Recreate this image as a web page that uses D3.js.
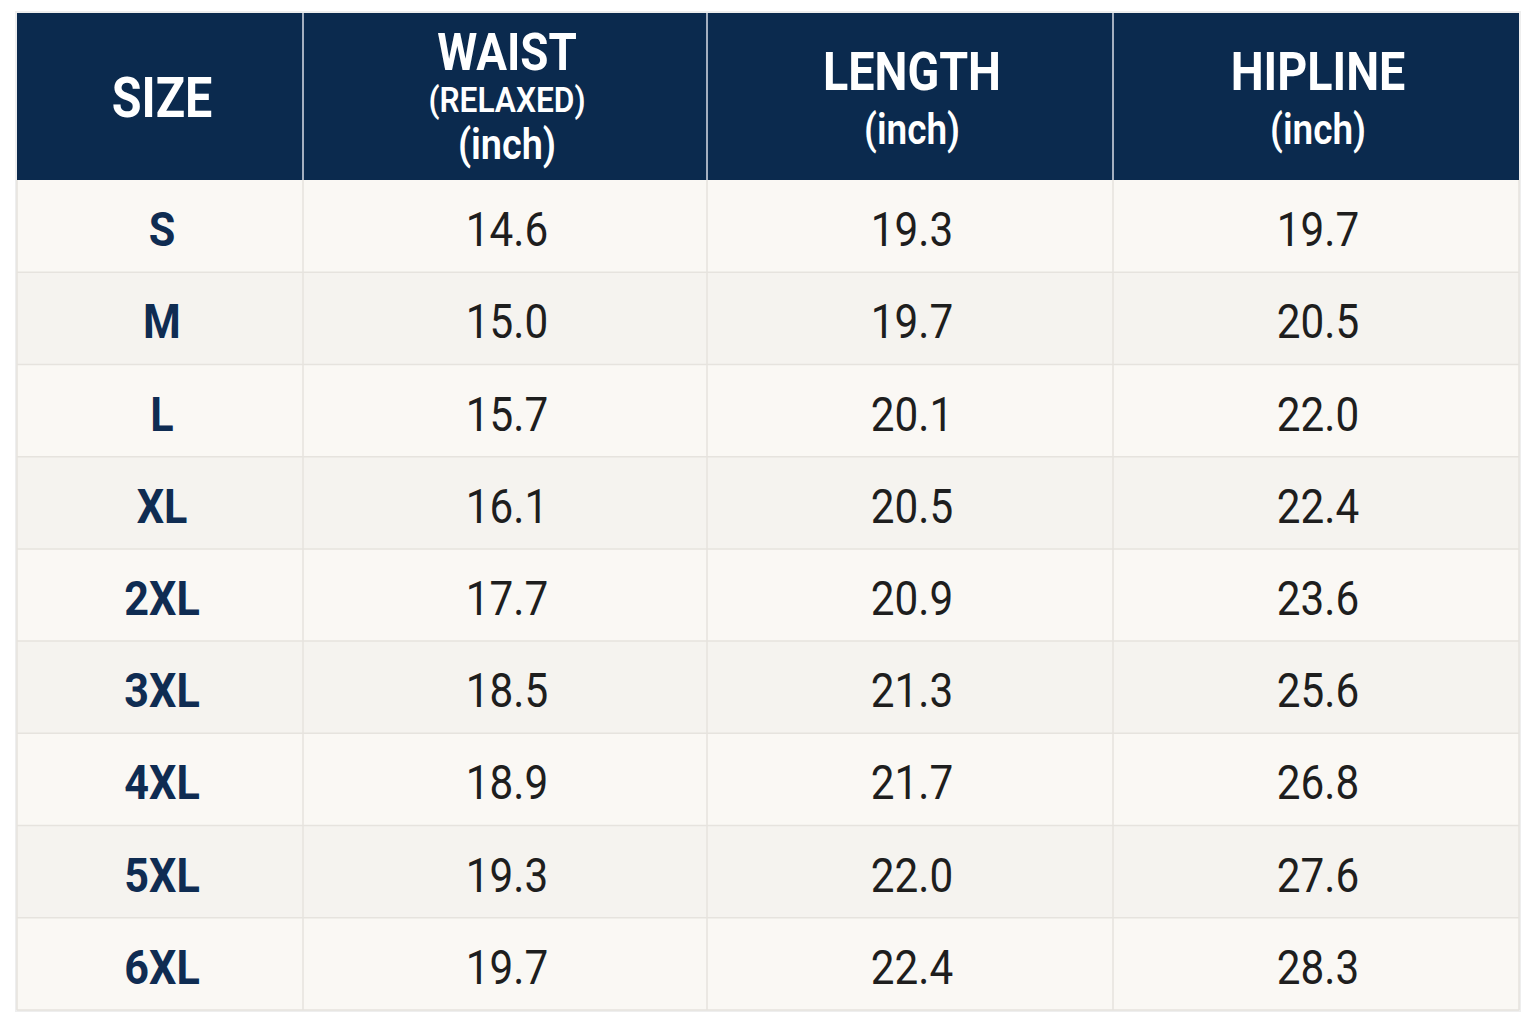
<!DOCTYPE html>
<html>
<head>
<meta charset="utf-8">
<script src="https://cdn.jsdelivr.net/npm/d3@7"></script>
<style>
  html, body { margin: 0; padding: 0; background: #ffffff; }
  svg { display: block; }
</style>
</head>
<body>
<svg id="chart"></svg>
<script>
var width = 1536, height = 1024

// data
var sizes = ["S", "M", "L", "XL", "2XL", "3XL", "4XL", "5XL", "6XL"]
var waistVals = [14.6, 15.0, 15.7, 16.1, 17.7, 18.5, 18.9, 19.3, 19.7]
var lengthVals = [19.3, 19.7, 20.1, 20.5, 20.9, 21.3, 21.7, 22.0, 22.4]
var hipVals = [19.7, 20.5, 22.0, 22.4, 23.6, 25.6, 26.8, 27.6, 28.3]
var headers = [
    ["SIZE"],
    ["WAIST", "(RELAXED)", "(inch)"],
    ["LENGTH", "(inch)"],
    ["HIPLINE", "(inch)"]
]

var tLeft = 17, tRight = 1519, tTop = 13, headBottom = 180, tBottom = 1010
var colEdges = [tLeft, 303, 707, 1113, tRight]
var navy = "#0b2a4e"
var sx = 0.88

var svg = d3.select("#chart")
    .attr("width", width)
    .attr("height", height)

var y = d3.scaleBand()
    .domain(d3.range(sizes.length))
    .range([headBottom, tBottom])

var rows = sizes.map((s, i) => [s, waistVals[i].toFixed(1), lengthVals[i].toFixed(1), hipVals[i].toFixed(1)])

// soft shadow around table
svg.append("rect")
    .attr("x", tLeft - 1).attr("y", tTop - 1)
    .attr("width", tRight - tLeft + 2).attr("height", tBottom - tTop + 2)
    .attr("fill", "none")
    .attr("stroke", "#eeeeee")
    .attr("stroke-width", 2)

// header
svg.append("rect")
    .attr("x", tLeft).attr("y", tTop)
    .attr("width", tRight - tLeft).attr("height", headBottom - tTop)
    .attr("fill", navy)

// body rows
svg.append("g").selectAll("rect")
    .data(rows)
    .join("rect")
        .attr("x", tLeft)
        .attr("y", (d, i) => y(i))
        .attr("width", tRight - tLeft)
        .attr("height", y.bandwidth())
        .attr("fill", (d, i) => i % 2 == 0 ? "#faf8f4" : "#f5f3ef")

// horizontal grid lines
svg.append("g").selectAll("line")
    .data(d3.range(1, sizes.length + 1))
    .join("line")
        .attr("x1", tLeft).attr("x2", tRight)
        .attr("y1", i => y(i) || tBottom)
        .attr("y2", i => y(i) || tBottom)
        .attr("stroke", "#e6e3de")
        .attr("stroke-width", 1.5)

// vertical grid lines
svg.append("g").selectAll("line")
    .data(colEdges)
    .join("line")
        .attr("x1", d => d).attr("x2", d => d)
        .attr("y1", headBottom).attr("y2", tBottom)
        .attr("stroke", "#e6e3de")
        .attr("stroke-width", 1.5)

svg.append("g").selectAll("line")
    .data(colEdges.slice(1, -1))
    .join("line")
        .attr("x1", d => d).attr("x2", d => d)
        .attr("y1", tTop).attr("y2", headBottom)
        .attr("stroke", "#d8dde6")
        .attr("stroke-width", 1.5)

function colCenter(j) { return (colEdges[j] + colEdges[j + 1]) / 2 }

// header lines: [baseline, font size]
var headerLayout = [
    [[117, 55]],
    [[70, 52], [112, 36], [159, 43]],
    [[90, 53], [144, 42]],
    [[90, 53], [144, 42]]
]

headers.forEach((lines, j) => {
    svg.append("g").selectAll("text")
        .data(lines)
        .join("text")
            .attr("transform", (d, k) => "translate(" + (colCenter(j) + 2) + "," + headerLayout[j][k][0] + ") scale(" + sx + ",1)")
            .attr("text-anchor", "middle")
            .attr("font-family", "Roboto, sans-serif")
            .attr("font-weight", (d, k) => k == 0 ? 700 : 600)
            .attr("font-size", (d, k) => headerLayout[j][k][1])
            .attr("fill", "#ffffff")
            .text(d => d)
})

// body text
rows.forEach((r, i) => {
    svg.append("g").selectAll("text")
        .data(r)
        .join("text")
            .attr("transform", (d, j) => "translate(" + (colCenter(j) + 2) + "," + (y(i) + y.bandwidth() / 2 + 20) + ") scale(" + sx + ",1)")
            .attr("text-anchor", "middle")
            .attr("font-family", "Roboto, sans-serif")
            .attr("font-weight", (d, j) => j == 0 ? 700 : 400)
            .attr("font-size", (d, j) => j == 0 ? 49 : 48)
            .attr("fill", (d, j) => j == 0 ? "#0f2c52" : "#1e1e1e")
            .text(d => d)
})
</script>
</body>
</html>
